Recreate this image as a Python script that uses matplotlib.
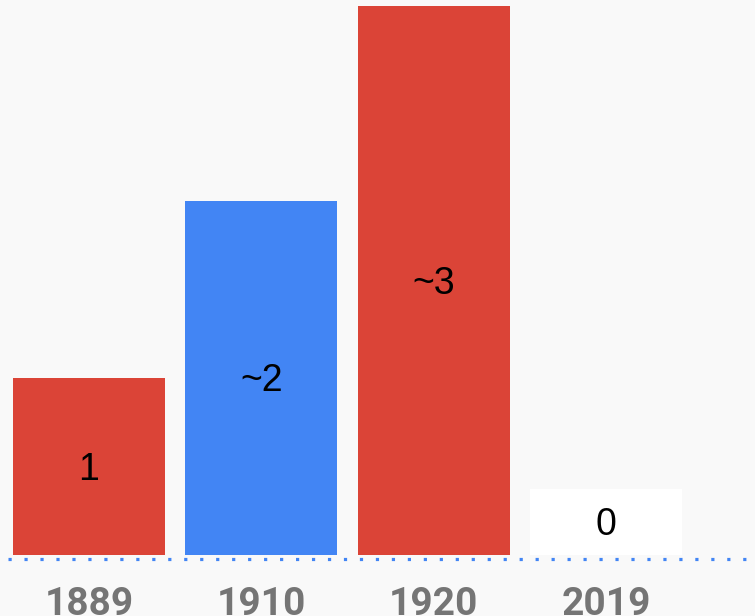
import matplotlib.pyplot as plt

# Dados do gráfico
years = ["1889", "1910", "1920", "2019"]
values = [1, 2, 3.1, 0]
value_labels = ["1", "~2", "~3", "0"]
bar_colors = ["#db4437", "#4285f4", "#db4437", "#ffffff"]
zero_box_height = 0.373  # caixa branca mostrada para o valor 0

W, H = 755, 616
px_unit = 177.0   # pixels por unidade no eixo y
px_bar = 172.3    # pixels entre barras

fig = plt.figure(figsize=(W / 100, H / 100), dpi=100)
fig.patch.set_facecolor("#f9f9f9")

# eixo começa na linha de base (555 px a partir do topo)
ax = fig.add_axes([0, 61 / H, 1, 555 / H])
ax.set_facecolor("#f9f9f9")

x = list(range(len(years)))
heights = [v if v > 0 else zero_box_height for v in values]
ax.bar(x, heights, width=152 / px_bar, color=bar_colors, zorder=2)

# rótulos no centro de cada barra (leve ajuste para baixo)
for xi, h, lab in zip(x, heights, value_labels):
    ax.text(xi, h / 2 - 3 / px_unit, lab, ha="center", va="center", fontsize=27,
            family="Liberation Sans", color="black", zorder=3)

ax.set_xlim(-89 / px_bar, (W - 89) / px_bar)
ax.set_ylim(0, 555 / px_unit)

# linha pontilhada da base
ax.plot([(8 - 89) / px_bar, (W - 89) / px_bar], [-4 / px_unit, -4 / px_unit],
        color="#4285f4", linewidth=2.3, linestyle=(0, (1, 4)),
        dash_capstyle="butt", clip_on=False, zorder=1)

ax.set_xticks(x)
ax.set_xticklabels(years, fontsize=28, fontweight="bold",
                   family="Roboto", color="#757575")
ax.tick_params(axis="x", length=0, pad=22)
ax.set_yticks([])
for s in ax.spines.values():
    s.set_visible(False)

fig.savefig("out.png", dpi=100, facecolor=fig.get_facecolor())
